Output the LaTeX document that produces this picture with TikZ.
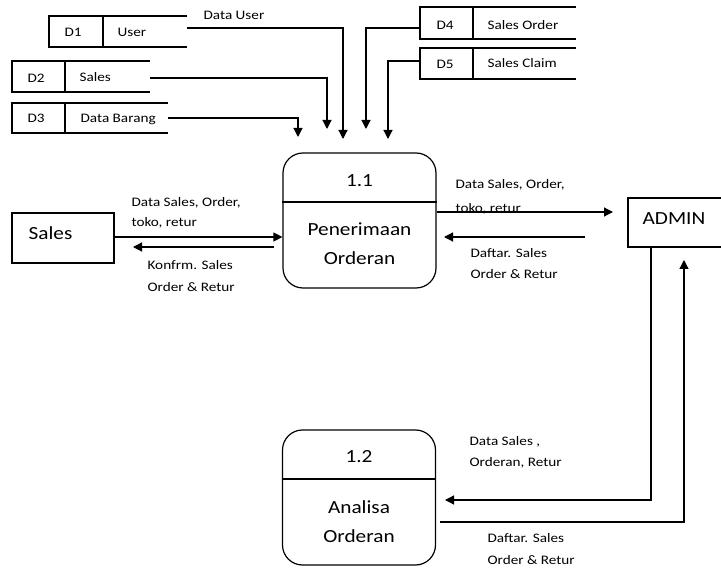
\documentclass[tikz,border=0pt]{standalone}
\usepackage{fontspec}
\setmainfont{Carlito}
\usepackage{graphicx}
\usetikzlibrary{arrows.meta}
\newcommand\sxs[1]{\scalebox{1.17}[1]{#1}}
\newcommand\sxb[1]{\scalebox{1.15}[1]{#1}}
\begin{document}
\begin{tikzpicture}[x=1pt,y=-1pt, line width=1.2pt,
  flow/.style={-{Triangle[length=9pt,width=9pt]}},
  lbl/.style={anchor=base west, inner sep=0pt, font=\fontsize{13}{13}\selectfont},
  big/.style={anchor=base, inner sep=0pt, font=\fontsize{18.5}{18.5}\selectfont},
  bigw/.style={anchor=base west, inner sep=0pt, font=\fontsize{18.5}{18.5}\selectfont},
  proc/.style={draw, rounded corners=20pt, minimum width=153pt, minimum height=135pt, inner sep=0pt},
  ext/.style={draw, inner sep=0pt}]
\useasboundingbox (0,0) rectangle (721,569);

% data stores
\draw (187,16) -- (49,16) -- (49,47) -- (187,47) (103,16) -- (103,47);
\node[lbl] (d1id) at (64,37) {\sxs{D1}};
\node[lbl] (d1nm) at (117,37) {\sxs{User}};
\coordinate (d1) at (187,28);

\draw (150,61) -- (12,61) -- (12,92) -- (150,92) (65,61) -- (65,92);
\node[lbl] (d2id) at (27,83) {\sxs{D2}};
\node[lbl] (d2nm) at (79,82) {\sxs{Sales}};
\coordinate (d2) at (150,78);

\draw (168,103) -- (12,103) -- (12,133) -- (168,133) (65,103) -- (65,133);
\node[lbl] (d3id) at (27,123) {\sxs{D3}};
\node[lbl] (d3nm) at (80,123) {\sxs{Data Barang}};
\coordinate (d3) at (168,118);

\draw (576,7) -- (420,7) -- (420,39) -- (576,39) (473,7) -- (473,39);
\node[lbl] (d4id) at (436,30) {\sxs{D4}};
\node[lbl] (d4nm) at (487,30) {\sxs{Sales Order}};
\coordinate (d4) at (420,28);

\draw (576,48) -- (420,48) -- (420,79) -- (576,79) (473,48) -- (473,79);
\node[lbl] (d5id) at (436,69) {\sxs{D5}};
\node[lbl] (d5nm) at (487,68) {\sxs{Sales Claim}};
\coordinate (d5) at (420,61);

% arrow ends above process 1.1
\coordinate (t1) at (343,139);
\coordinate (t2) at (327,129);
\coordinate (t3) at (298,137);
\coordinate (t4) at (366,129);
\coordinate (t5) at (388,139);

\draw[flow] (d1) -| (t1);
\draw[flow] (d2) -| (t2);
\draw[flow] (d3) -| (t3);
\draw[flow] (d4) -| (t4);
\draw[flow] (d5) -| (t5);
\node[lbl] (l0) at (203,20) {\sxs{Data User}};

% process 1.1
\node[proc] (p11) at (359.5,220.5) {};
\draw (p11.west |- 0,202) -- (p11.east |- 0,202);
\node[big] (p11n) at (359.5,187) {\sxb{1.1}};
\node[big] (p11a) at (359.5,236) {\sxb{Penerimaan}};
\node[big] (p11b) at (359.5,265) {\sxb{Orderan}};

% process 1.2
\node[proc] (p12) at (359,497.5) {};
\draw (p12.west |- 0,479) -- (p12.east |- 0,479);
\node[big] (p12n) at (359,463) {\sxb{1.2}};
\node[big] (p12a) at (359,514) {\sxb{Analisa}};
\node[big] (p12b) at (359,543) {\sxb{Orderan}};

% external entities
\node[ext, minimum width=102pt, minimum height=50pt] (sales) at (63,238) {};
\node[bigw] (salest) at (28,240) {\sxb{Sales}};
\draw (721,198) -- (628,198) -- (628,247) -- (721,247);
\coordinate (admin) at (628,222);
\node[bigw] (admint) at (642,225) {\sxb{ADMIN}};

% sales <-> 1.1
\coordinate (sb) at (274,247);
\coordinate (sbt) at (133,247);
\draw[flow] (sales.east |- 0,237) -- (p11.west |- 0,237);
\draw[flow] (sb) -- (sbt);
\node[lbl] (l1) at (131,207) {\sxs{Data Sales, Order,}};
\node[lbl] (l2) at (131,227) {\sxs{toko, retur}};
\node[lbl] (l3) at (147,270) {\sxs{Konfrm. Sales}};
\node[lbl] (l4) at (147,292) {\sxs{Order \& Retur}};

% 1.1 <-> admin
\coordinate (at1) at (613,212);
\coordinate (ab) at (585,237);
\coordinate (abt) at (444,237);
\draw[flow] (p11.east |- 0,212) -- (at1);
\draw[flow] (ab) -- (abt);
\node[lbl] (l5) at (455,189) {\sxs{Data Sales, Order,}};
\node[lbl] (l6) at (455,213) {\sxs{toko, retur}};
\node[lbl] (l7) at (470,258) {\sxs{Daftar. Sales}};
\node[lbl] (l8) at (470,279) {\sxs{Order \& Retur}};

% admin <-> 1.2
\coordinate (ad1) at (651,247);
\coordinate (ad2) at (651,500);
\coordinate (ad3) at (445,500);
\draw[flow] (ad1) -- (ad2) -- (ad3);
\coordinate (up1) at (440,522);
\coordinate (up2) at (684,522);
\coordinate (up3) at (684,260);
\draw[flow] (up1) -- (up2) -- (up3);
\node[lbl] (l9) at (469,446) {\sxs{Data Sales ,}};
\node[lbl] (l10) at (469,467) {\sxs{Orderan, Retur}};
\node[lbl] (l11) at (487,543) {\sxs{Daftar. Sales}};
\node[lbl] (l12) at (487,564) {\sxs{Order \& Retur}};
\end{tikzpicture}
\end{document}
